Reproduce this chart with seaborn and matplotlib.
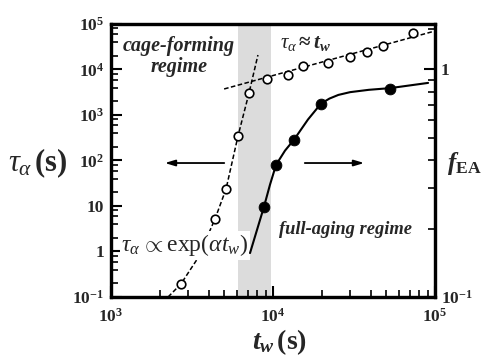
import numpy as np
import pandas as pd
import seaborn as sns
import matplotlib.pyplot as plt
from matplotlib.ticker import FixedLocator, FixedFormatter, LogLocator, NullFormatter

# open circles: tau_alpha (left axis)
tw_open = [2700, 4385, 5130, 6080, 7110, 9180, 12400, 15300, 21900, 29900, 38000, 47700, 73100]
tau_open = [0.193, 5.2, 23.7, 345, 3050, 6180, 7570, 11900, 13900, 18800, 24300, 32800, 63400]

# filled circles: f_EA (right axis)
tw_fill = [8790, 10440, 13490, 19770, 52700]
fea_fill = [0.249, 0.381, 0.492, 0.708, 0.824]

# guide curves
tw_exp = [2250, 2700, 3440, 4385, 5130, 6080, 7110, 8070]
tau_exp = [0.1, 0.193, 0.72, 5.2, 23.7, 345, 3050, 20800]
tw_lin = [4990, 100000]
tau_lin = [3730, 70200]
tw_fit = [7210, 7960, 8790, 9570, 10440, 11860, 13490, 16440, 19770, 22300, 25300, 29900, 39000, 52700, 90600]
fea_fit = [0.156, 0.197, 0.249, 0.311, 0.381, 0.440, 0.492, 0.603, 0.708, 0.745, 0.773, 0.795, 0.814, 0.828, 0.873]

band = (6080, 9730)

sns.set_theme(style='ticks')
plt.rcParams['font.family'] = ['Liberation Serif', 'DejaVu Serif']
plt.rcParams['font.weight'] = 'bold'
plt.rcParams['mathtext.fontset'] = 'custom'
plt.rcParams['mathtext.rm'] = 'Liberation Serif:weight=normal'
plt.rcParams['mathtext.it'] = 'Liberation Serif:italic:weight=normal'
plt.rcParams['mathtext.bf'] = 'Liberation Serif:weight=bold'
plt.rcParams['mathtext.bfit'] = 'Liberation Serif:italic:weight=bold'

fig = plt.figure(figsize=(4.93, 3.58), dpi=100)
ax = fig.add_axes([0.2252, 0.1704, 0.6572, 0.7626])
ax2 = ax.twinx()

ax.set_xscale('log')
ax.set_yscale('log')
ax2.set_yscale('log')
ax.set_xlim(1e3, 1e5)
ax.set_ylim(0.1, 1e5)
ax2.set_ylim(0.1, 10 ** 0.2)

ax.axvspan(band[0], band[1], color='#dcdcdc', lw=0, zorder=0)

dash = (0, (3, 1.6))
sns.lineplot(x=tw_exp, y=tau_exp, ax=ax, color='black', lw=1.1, linestyle=dash, sort=False, zorder=2)
sns.lineplot(x=tw_lin, y=tau_lin, ax=ax, color='black', lw=1.1, linestyle=dash, sort=False, zorder=2)
sns.scatterplot(x=tw_open, y=tau_open, ax=ax, marker='o', s=38, color='white', edgecolor='black', linewidth=1.2, zorder=4)

sns.lineplot(x=tw_fit, y=fea_fit, ax=ax2, color='black', lw=1.5, sort=False, zorder=2)
sns.scatterplot(x=tw_fill, y=fea_fill, ax=ax2, marker='o', s=60, color='black', edgecolor='black', zorder=4)

# ticks
ax.yaxis.set_major_locator(FixedLocator([0.1, 1, 10, 100, 1e3, 1e4, 1e5]))
ax.yaxis.set_major_formatter(FixedFormatter([r'$\mathdefault{10^{-1}}$', '1', '10', r'$\mathdefault{10^{2}}$',
                                             r'$\mathdefault{10^{3}}$', r'$\mathdefault{10^{4}}$', r'$\mathdefault{10^{5}}$']))
ax.yaxis.set_minor_locator(LogLocator(base=10, subs=(2, 4, 6, 8), numticks=20))
ax.yaxis.set_minor_formatter(NullFormatter())
ax.xaxis.set_major_locator(FixedLocator([1e3, 1e4, 1e5]))
ax.xaxis.set_minor_locator(LogLocator(base=10, subs=np.arange(2, 10), numticks=20))
ax.xaxis.set_minor_formatter(NullFormatter())
ax2.yaxis.set_major_locator(FixedLocator([0.1, 1]))
ax2.yaxis.set_major_formatter(FixedFormatter([r'$\mathdefault{10^{-1}}$', '1']))
ax2.yaxis.set_minor_locator(FixedLocator([0.2, 0.3, 0.4, 0.5, 0.6, 0.7, 0.8, 0.9, 1.5]))
ax2.yaxis.set_minor_formatter(NullFormatter())

for a in (ax, ax2):
    a.tick_params(which='major', direction='in', length=8, width=1.5, labelsize=12.5, color='black')
    a.tick_params(which='minor', direction='in', length=5, width=1.2, color='black')
    for s in a.spines.values():
        s.set_linewidth(2.3)
        s.set_color('black')
ax.tick_params(axis='x', which='both', top=False)
ax.tick_params(axis='x', which='major', pad=8)
ax.tick_params(axis='y', which='both', right=False)
ax.tick_params(axis='y', which='major', pad=5)
ax2.tick_params(axis='y', which='both', left=False, right=True)
ax2.tick_params(axis='y', which='major', pad=4)

# axis titles
ax.text(-0.225, 0.49, r'$\tau_\alpha\,$(s)', transform=ax.transAxes, fontsize=22, ha='center', va='center')
ax.text(0.52, -0.165, r'$\mathbfit{t}_{\mathbfit{w}}\,$(s)', transform=ax.transAxes, fontsize=20, ha='center', va='center')
ax.text(1.09, 0.49, r'$\mathbfit{f}_{\mathbf{EA}}$', transform=ax.transAxes, fontsize=18, ha='center', va='center')

# annotations
ax.text(0.21, 0.88, 'cage-forming\nregime', transform=ax.transAxes, fontsize=14.5, style='italic',
        ha='center', va='center', linespacing=1.05)
ax.text(0.725, 0.249, 'full-aging regime', transform=ax.transAxes, fontsize=13.3, style='italic',
        ha='center', va='center')
ax.text(0.6, 0.93, r'$\tau_\alpha \mathbf{\approx} \mathbfit{t}_{\mathbfit{w}}$', transform=ax.transAxes, fontsize=15,
        ha='center', va='center', zorder=6)
ax.text(0.228, 0.19, r'$\tau_\alpha\, \propto \mathrm{exp}(\alpha t_w)$', transform=ax.transAxes, fontsize=17,
        ha='center', va='center', zorder=5,
        bbox=dict(facecolor='white', edgecolor='none', pad=1))

ax.annotate('', xy=(2065, 88), xytext=(5200, 88),
            arrowprops=dict(arrowstyle='-|>,head_length=0.5,head_width=0.15', color='black', lw=1.3))
ax.annotate('', xy=(38000, 88), xytext=(15100, 88),
            arrowprops=dict(arrowstyle='-|>,head_length=0.5,head_width=0.15', color='black', lw=1.3))

fig.savefig('out.png', dpi=100)
